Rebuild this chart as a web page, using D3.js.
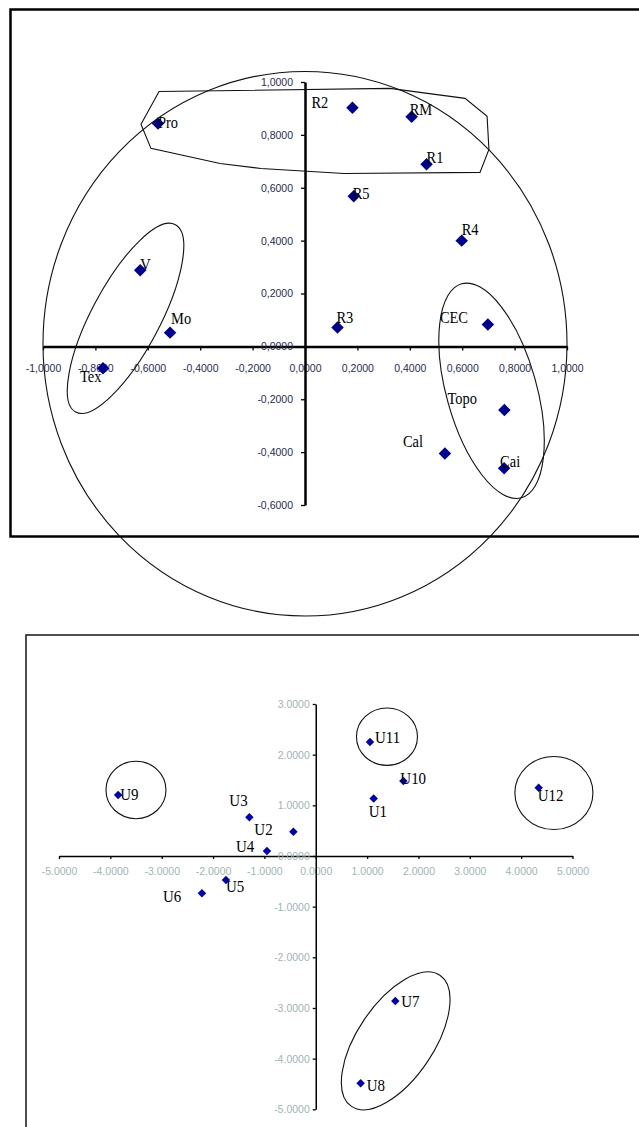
<!DOCTYPE html>
<html>
<head>
<meta charset="utf-8">
<script src="https://cdn.jsdelivr.net/npm/d3@7"></script>
<style>
  html, body { margin: 0; padding: 0; background: #fff; }
  svg { display: block; }
  .lbl { font-family: "Liberation Serif", "Times New Roman", serif; font-size: 17px; fill: #000; }
  .tickTop text { font-family: "Liberation Sans", Arial, sans-serif; font-size: 10.5px; fill: #2a2a50; }
  .tickBot text { font-family: "Liberation Sans", Arial, sans-serif; font-size: 10.5px; fill: #a3b4b4; }
</style>
</head>
<body>
<script>
// ---- Correlation circle: variables on F1 / F2 ----
const varNames = ["Pro", "R2", "RM", "R1", "R5", "R4", "V", "Mo", "R3", "CEC", "Tex", "Topo", "Cal", "Cai"];
const varF1 = [-0.561, 0.181, 0.407, 0.464, 0.186, 0.598, -0.629, -0.515, 0.124, 0.698, -0.771, 0.761, 0.534, 0.760];
const varF2 = [0.843, 0.903, 0.869, 0.689, 0.568, 0.400, 0.288, 0.052, 0.071, 0.083, -0.083, -0.241, -0.405, -0.461];
const varTicksX = [-1, -0.8, -0.6, -0.4, -0.2, 0, 0.2, 0.4, 0.6, 0.8, 1];
const varTicksY = [-0.6, -0.4, -0.2, 0, 0.2, 0.4, 0.6, 0.8, 1];

// ---- Factor map: units on F1 / F2 ----
const unitNames = ["U1", "U2", "U3", "U4", "U5", "U6", "U7", "U8", "U9", "U10", "U11", "U12"];
const unitF1 = [1.128, -0.436, -1.293, -0.950, -1.749, -2.216, 1.549, 0.874, -3.848, 1.706, 1.056, 4.341];
const unitF2 = [1.135, 0.480, 0.764, 0.099, -0.474, -0.736, -2.862, -4.487, 1.204, 1.480, 2.250, 1.347];
const unitTicksX = [-5, -4, -3, -2, -1, 0, 1, 2, 3, 4, 5];
const unitTicksY = [-5, -4, -3, -2, -1, 0, 1, 2, 3];

// Hand-drawn group outlines (data units)
const groupPolygon = [[-0.557, 0.964], [0.324, 0.976], [0.611, 0.938], [0.695, 0.870], [0.702, 0.745],
  [0.668, 0.658], [0.149, 0.654], [-0.168, 0.673], [-0.324, 0.692], [-0.588, 0.749], [-0.626, 0.840]];
// [cx, cy, semi-axis a, semi-axis b, rotation deg]
const varEllipses = [[-0.685, 0.106, 0.405, 0.130, -62], [0.712, -0.168, 0.424, 0.172, 74.4]];
const unitEllipses = [[1.387, 2.355, 0.594, 0.559, 0], [-3.501, 1.303, 0.584, 0.559, 0],
  [4.638, 1.244, 0.760, 0.711, 0], [1.557, -3.649, 1.54, 0.74, -56]];

// label offsets in px (left edge, baseline) relative to each marker
const varLabelOffset = {
  Pro: [0, 4], R2: [-41, 0], RM: [-2, -2], R1: [0, -1], R5: [-1, 3], R4: [0, -6], V: [0, 0],
  Mo: [1, -9], R3: [-1, -5], CEC: [-48, -1], Tex: [-23, 14], Topo: [-57, -6], Cal: [-42, -6], Cai: [-4, -1]
};
const unitLabelOffset = {
  U1: [-5, 19], U2: [-39, 3], U3: [-20, -11], U4: [-31, 1], U5: [0, 12], U6: [-39, 9],
  U7: [6, 6], U8: [6, 8], U9: [2, 5], U10: [-3, 3], U11: [5, 1], U12: [-1, 13]
};

const W = 639, H = 1127;
const svg = d3.select("body").append("svg").attr("width", W).attr("height", H);

const commaLocale = d3.formatLocale({ decimal: ",", thousands: ".", grouping: [3], currency: ["", ""], minus: "-" });
const dotLocale = d3.formatLocale({ decimal: ".", thousands: ",", grouping: [3], currency: ["", ""], minus: "-" });

const diamond = size => d3.symbol().type(d3.symbolSquare).size(size)();

function drawPlot(g, cfg) {
  const { x, y, names, f1, f2, ticksX, ticksY, fmt, tickClass, axisWidth, tick, padX, padY,
          markSize, markColor, offsets, labelScale } = cfg;

  const ax = g.append("g").attr("class", tickClass)
    .attr("transform", `translate(0,${y(0)})`)
    .call(d3.axisBottom(x).tickValues(ticksX).tickFormat(fmt).tickSize(tick).tickSizeOuter(0).tickPadding(padX));
  const ay = g.append("g").attr("class", tickClass)
    .attr("transform", `translate(${x(0)},0)`)
    .call(d3.axisLeft(y).tickValues(ticksY).tickFormat(fmt).tickSize(tick).tickSizeOuter(0).tickPadding(padY));
  [ax, ay].forEach(a => {
    a.select(".domain").attr("stroke", "#000").attr("stroke-width", axisWidth);
    a.selectAll(".tick line").attr("stroke", "#000").attr("stroke-width", 1.3);
  });

  const pts = names.map((n, i) => ({ n, px: x(f1[i]), py: y(f2[i]) }));
  g.append("g").selectAll("path").data(pts).join("path")
    .attr("d", diamond(markSize))
    .attr("transform", d => `translate(${d.px},${d.py}) rotate(45)`)
    .attr("fill", markColor);

  g.append("g").selectAll("text").data(pts).join("text")
    .attr("class", "lbl")
    .attr("transform", d => `translate(${d.px + offsets[d.n][0]},${d.py + offsets[d.n][1]}) scale(${labelScale},1)`)
    .text(d => d.n);
}

function drawEllipses(g, x, y, list) {
  const k = x(1) - x(0);
  g.append("g").selectAll("ellipse").data(list).join("ellipse")
    .attr("transform", d => `translate(${x(d[0])},${y(d[1])}) rotate(${d[4]})`)
    .attr("rx", d => d[2] * k).attr("ry", d => d[3] * k)
    .attr("fill", "none").attr("stroke", "#111").attr("stroke-width", 1.1);
}

// ===== Top panel: correlation circle =====
const topPanel = svg.append("g");
topPanel.append("rect").attr("x", 10.5).attr("y", 9.5).attr("width", 660).attr("height", 527)
  .attr("fill", "none").attr("stroke", "#000").attr("stroke-width", 2.5);

const xV = d3.scaleLinear().domain([-1, 1]).range([43, 567]);
const yV = d3.scaleLinear().domain([-0.6, 1]).range([505, 82]);

drawPlot(topPanel, {
  x: xV, y: yV, names: varNames, f1: varF1, f2: varF2, ticksX: varTicksX, ticksY: varTicksY,
  fmt: commaLocale.format(".4f"), tickClass: "tickTop", axisWidth: 2.5, tick: 4, padX: 14, padY: 8,
  markSize: 78, markColor: "#000090", offsets: varLabelOffset, labelScale: 0.85
});

topPanel.append("path")
  .attr("d", d3.line().x(d => xV(d[0])).y(d => yV(d[1])).curve(d3.curveLinearClosed)(groupPolygon))
  .attr("fill", "none").attr("stroke", "#111").attr("stroke-width", 1.1);
drawEllipses(topPanel, xV, yV, varEllipses);

// unit circle of correlations
topPanel.append("ellipse")
  .attr("cx", xV(0)).attr("cy", yV(0.01))
  .attr("rx", xV(1.0) - xV(0)).attr("ry", yV(0) - yV(1.03))
  .attr("fill", "none").attr("stroke", "#111").attr("stroke-width", 1.1);

// ===== Bottom panel: units =====
const botPanel = svg.append("g");
botPanel.append("rect").attr("x", 26).attr("y", 635).attr("width", 700).attr("height", 600)
  .attr("fill", "none").attr("stroke", "#222").attr("stroke-width", 1.6);

const xU = d3.scaleLinear().domain([-5, 5]).range([59, 572.5]);
const yU = d3.scaleLinear().domain([-5, 3]).range([1109.3, 704]);

drawPlot(botPanel, {
  x: xU, y: yU, names: unitNames, f1: unitF1, f2: unitF2, ticksX: unitTicksX, ticksY: unitTicksY,
  fmt: dotLocale.format(".4f"), tickClass: "tickBot", axisWidth: 1.5, tick: 3, padX: 9, padY: 3,
  markSize: 36, markColor: "#0000b0", offsets: unitLabelOffset, labelScale: 0.88
});
drawEllipses(botPanel, xU, yU, unitEllipses);
</script>
</body>
</html>
